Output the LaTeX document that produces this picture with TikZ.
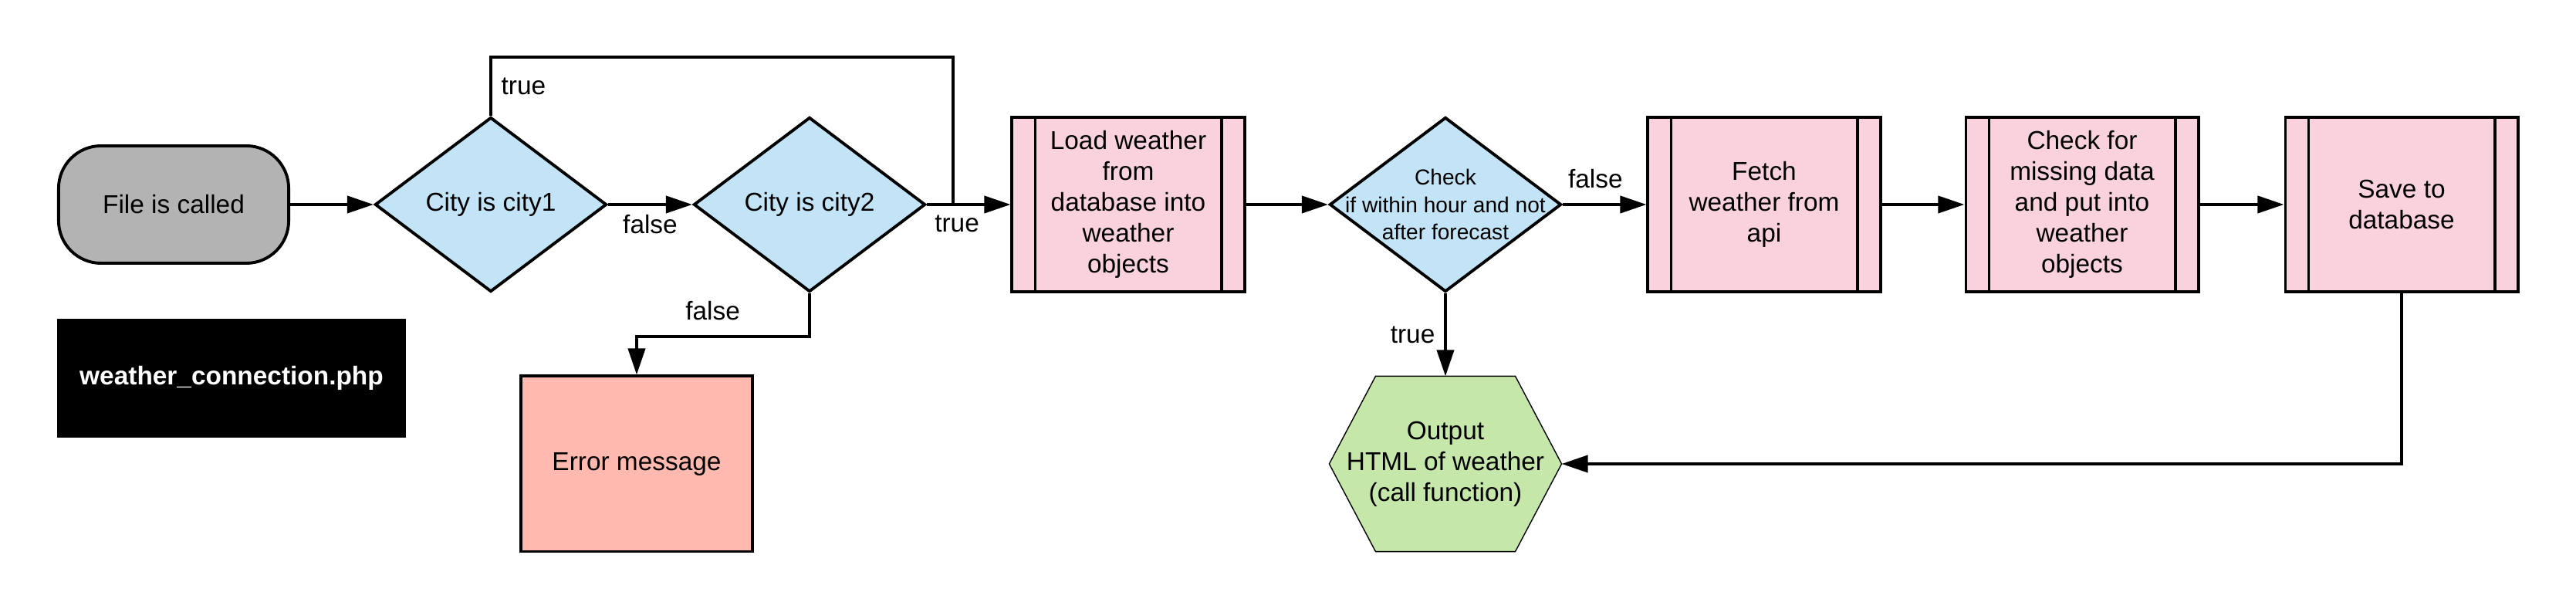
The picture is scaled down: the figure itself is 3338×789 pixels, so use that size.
\documentclass[tikz,border=0pt]{standalone}
\usepackage{fontspec}
\setmainfont{Liberation Sans}
\usetikzlibrary{shapes.geometric, arrows.meta, backgrounds}
\definecolor{termgray}{HTML}{B3B3B3}
\definecolor{decblue}{HTML}{C2E4F6}
\definecolor{procpink}{HTML}{F9D2DE}
\definecolor{errred}{HTML}{FFB9AF}
\definecolor{outgreen}{HTML}{C6E7AA}
\begin{document}
\begin{tikzpicture}[x=0.01cm, y=-0.01cm, line width=1.1pt,
        font=\fontsize{9.5}{11.4}\selectfont,
        termstyle/.style={draw, fill=termgray, rounded corners=0.55cm, minimum width=2.98cm, minimum height=1.52cm},
        decstyle/.style={diamond, draw, fill=decblue, aspect=1.33, inner sep=0pt, minimum width=3cm, minimum height=2.26cm},
        procstyle/.style={draw, fill=procpink, minimum width=3.01cm, minimum height=2.26cm, align=center,
            path picture={
                \draw ([xshift=0.3cm]path picture bounding box.north west) -- ([xshift=0.3cm]path picture bounding box.south west);
                \draw ([xshift=-0.3cm]path picture bounding box.north east) -- ([xshift=-0.3cm]path picture bounding box.south east);
            }},
        hexstyle/.style={minimum width=3.01cm, minimum height=2.27cm, align=center, inner sep=0pt, outer sep=0pt},
        arrowstyle/.style={-{Triangle[length=0.34cm, width=0.22cm]}}]
    \useasboundingbox (0,0) rectangle (3338,789);

    % Nodes
    \node[termstyle] (start) at (225,265) {File is called};
    \node[decstyle] (city1) at (636,265) {City is city1};
    \node[decstyle] (city2) at (1049,265) {City is city2};
    \node[procstyle] (load) at (1462,265) {Load weather\\from\\database into\\weather\\objects};
    \node[decstyle] (check) at (1873,265) {};
    \node[align=center, font=\fontsize{8}{10}\selectfont] (checktext) at (check) {Check\\if within hour and not\\after forecast};
    \node[procstyle] (fetch) at (2286,265) {Fetch\\weather from\\api};
    \node[procstyle] (missing) at (2698,265) {Check for\\missing data\\and put into\\weather\\objects};
    \node[procstyle] (save) at (3112,265) {Save to\\database};
    \node[draw, fill=errred, minimum width=3cm, minimum height=2.27cm] (error) at (825,601) {Error message};
    \node[hexstyle] (output) at (1873,601) {Output\\HTML of weather\\(call function)};
    \begin{scope}[on background layer]
        \draw[fill=outgreen] ([xshift=0.6cm]output.north west) -- ([xshift=-0.6cm]output.north east) -- (output.east)
            -- ([xshift=-0.6cm]output.south east) -- ([xshift=0.6cm]output.south west) -- (output.west) -- cycle;
    \end{scope}
    \node[fill=black, text=white, font=\fontsize{9.5}{11.4}\selectfont\bfseries,
        minimum width=4.51cm, minimum height=1.53cm] (filename) at (300,490) {weather\_connection.php};
    \coordinate (looptop) at (1235,74);
    \coordinate (loopjoin) at (1235,265);
    %%%

    % Connections
    \draw[arrowstyle] (start) -- (city1);
    \draw[arrowstyle] (city1) -- node[below] {false} (city2);
    \draw[arrowstyle] (city2) -- node[pos=0.36, below] {true} (load);
    \draw (city1.north) |- node[pos=0.25, right] {true} (looptop) -- (loopjoin);
    \draw[arrowstyle] (city2.south) -- ++(0,56) -| node[pos=0.28, above=2pt] {false} (error.north);

    \draw[arrowstyle] (load) -- (check);
    \draw[arrowstyle] (check) -- node[pos=0.39, above=2pt] {false} (fetch);
    \draw[arrowstyle] (check.south) -- node[left] {true} (output.north);
    \draw[arrowstyle] (fetch) -- (missing);
    \draw[arrowstyle] (missing) -- (save);
    \draw[arrowstyle] (save.south) |- (output.east);
    %%%
\end{tikzpicture}
\end{document}
